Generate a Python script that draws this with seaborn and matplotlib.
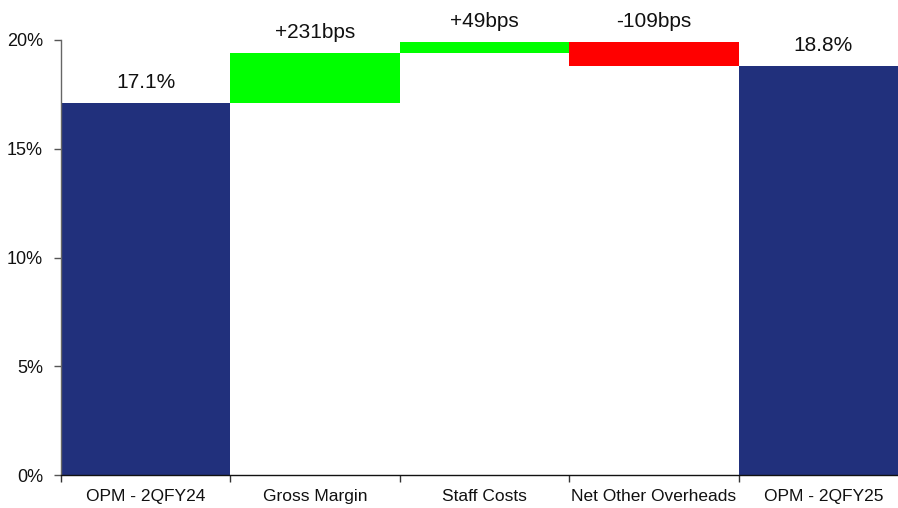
import pandas as pd
import seaborn as sns
import matplotlib as mpl
import matplotlib.pyplot as plt
from matplotlib.ticker import FixedLocator

# data
categories = ["OPM - 2QFY24", "Gross Margin", "Staff Costs", "Net Other Overheads", "OPM - 2QFY25"]
start_opm = 17.1
changes_bps = [231, 49, -109]
end_opm = 18.8
bar_colors = ["#21307c", "#00ff00", "#00ff00", "#ff0000", "#21307c"]

# build waterfall bottoms / heights
bases = [0.0]
heights = [start_opm]
level = start_opm
for c in changes_bps:
    d = c / 100.0
    new_level = level + d
    bases.append(min(level, new_level))
    heights.append(abs(d))
    level = new_level
bases.append(0.0)
heights.append(end_opm)

labels = [f"{start_opm:.1f}%"] + [f"{c:+d}bps" for c in changes_bps] + [f"{end_opm:.1f}%"]

df = pd.DataFrame({"category": categories, "height": heights, "base": bases})

sns.set_style("white")
mpl.rcParams["font.family"] = ["Liberation Sans", "DejaVu Sans"]

fig = plt.figure(figsize=(8.98, 5.08), dpi=100)
ax = fig.add_axes([61 / 898, 33 / 508, 847 / 898, 435 / 508])

sns.barplot(
    data=df,
    x="category",
    y="height",
    hue="category",
    palette=bar_colors,
    width=1.0,
    linewidth=0,
    saturation=1,
    legend=False,
    ax=ax,
)

# float the bars to their waterfall bottoms
for patch, b in zip(ax.patches, bases):
    patch.set_y(b)

for i, (b, h, lab) in enumerate(zip(bases, heights, labels)):
    ax.annotate(
        lab,
        (i, b + h),
        xytext=(0, 8),
        textcoords="offset points",
        ha="center",
        va="bottom",
        fontsize=15,
        color="#111111",
    )

ax.set_ylim(0, 20)
ax.set_xlim(-0.5, 4.5)
ax.set_yticks([0, 5, 10, 15, 20])
ax.set_yticklabels([f"{v}%" for v in [0, 5, 10, 15, 20]])
ax.set_xlabel("")
ax.set_ylabel("")

ax.xaxis.set_minor_locator(FixedLocator([-0.5, 0.5, 1.5, 2.5, 3.5, 4.5]))
ax.tick_params(axis="x", which="major", length=0, pad=10, labelsize=12.5, labelcolor="#111111")
ax.tick_params(axis="x", which="minor", length=5, width=1, color="#333333", direction="out", bottom=True)
ax.tick_params(axis="y", length=5, width=1, color="#555555", direction="out", left=True, pad=8,
               labelsize=13, labelcolor="#111111")

sns.despine(ax=ax, top=True, right=True)
ax.spines["left"].set_color("#666666")
ax.spines["bottom"].set_color("#111111")
ax.spines["left"].set_linewidth(1)
ax.spines["bottom"].set_linewidth(1)

fig.savefig("out.png", dpi=100)
